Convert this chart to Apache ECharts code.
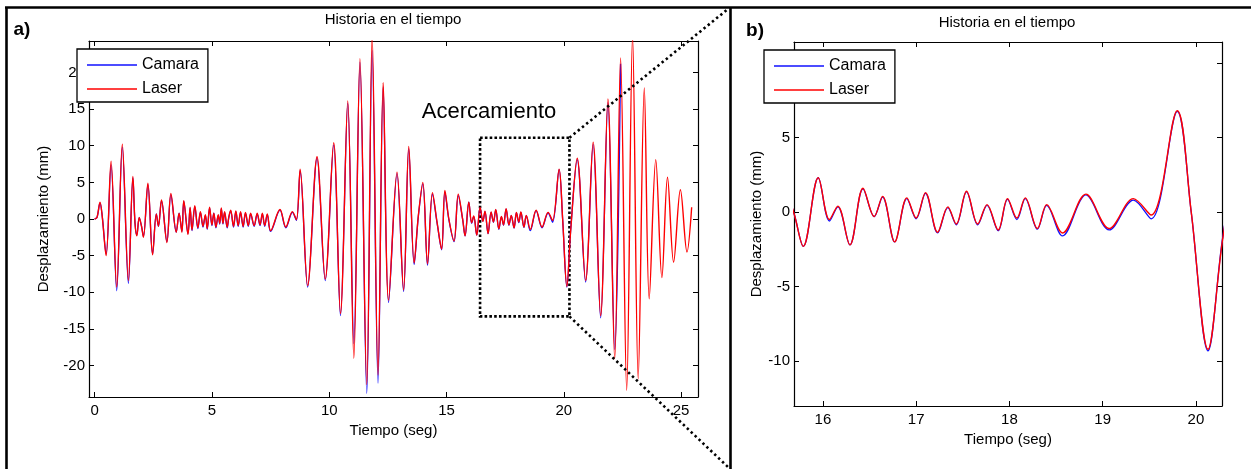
<!DOCTYPE html>
<html lang="es">
<head>
<meta charset="utf-8">
<script src="https://cdn.jsdelivr.net/npm/echarts@6/dist/echarts.min.js"></script>
<title>Historia en el tiempo</title>
<style>html,body{margin:0;padding:0;background:#fff;}</style>
</head>
<body>
<div id="main" style="width:1251px;height:469px;"></div>
<script type="text/javascript">
// tiempo (seg) de los picos y valles
var tiempo = [
    0, 0.10, 0.23, 0.32, 0.49, 0.70, 0.94, 1.18, 1.44, 1.63, 1.72, 1.80, 1.90, 2.00, 2.08, 2.27, 2.47, 2.63, 2.72, 2.85, 3.08, 3.25, 3.48, 3.60, 3.72, 3.80, 3.98,
    4.07, 4.15, 4.27, 4.40, 4.51, 4.62, 4.72, 4.80, 4.90, 5.00, 5.08, 5.17, 5.27, 5.33, 5.40, 5.47, 5.54, 5.65, 5.72, 5.80, 5.92, 6.02, 6.12, 6.22, 6.33, 6.43, 6.55, 6.65, 6.80, 6.93, 7.05, 7.15, 7.25, 7.36, 7.50,
    7.90, 8.15, 8.43, 8.60, 8.76, 9.08, 9.48, 9.83, 10.19, 10.48, 10.79, 11.05, 11.31, 11.60, 11.83, 12.08, 12.30, 12.53, 12.89, 13.17, 13.39, 13.62, 13.80, 13.99, 14.19, 14.40, 14.60, 14.79, 14.93, 15.10, 15.32, 15.50,
    15.69, 15.79, 15.95, 16.07, 16.16, 16.29, 16.43, 16.55, 16.64, 16.77, 16.90, 17.00, 17.10, 17.23, 17.34, 17.43, 17.54, 17.66, 17.76, 17.88, 17.98, 18.08, 18.17, 18.30, 18.40, 18.57, 18.82, 19.07, 19.33, 19.52, 19.80, 19.95, 20.13, 20.29,
    20.57, 20.93, 21.25, 21.57, 21.88, 22.17, 22.42, 22.68, 22.93, 23.17, 23.43, 23.64, 23.92, 24.18, 24.42, 24.68, 24.97, 25.25, 25.45
];
// desplazamiento (mm) - camara (termina cerca de 22.4 s)
var camara = [
    0, 0.2, 2.2, 0.5, -4.8, 7.4, -9.8, 9.8, -8.8, 5.6, -0.5, -2.2, 0.2, -1.0, -2.4, 4.7, -4.8, 0.7, -1.0, 2.5, -3.1, 3.3, -1.8, 0.8, -1.7, 2.4, -2.0,
    1.5, -1.6, 1.7, -1.3, 0.9, -1.1, 0.5, -1.4, 1.5, -0.9, 0.8, -1.2, 0.5, -0.7, 1.4, -0.7, 0.9, -1.2, 0.2, 1.1, -1.1, 1.0, -1.0, 0.9, -1.1, 0.8, -1.0, 0.7, -1.0, 0.7, -0.9, 0.7, -1.0, 0.6, -1.7,
    1.2, -1.2, 0.9, -0.2, 6.6, -9.3, 8.3, -8.4, 10.1, -13.2, 15.8, -17.0, 21.4, -23.8, 23.0, -22.4, 18.0, -11.4, 6.2, -9.9, 9.6, -6.2, 0.4, 4.8, -6.3, 3.4, -0.6, -4.2, 3.7, -0.1, -3.1, 3.2,
    -0.1, -2.3, 2.3, -0.6, 0.35, -2.2, 1.55, -0.3, 1.0, -2.0, 0.9, -0.45, 1.25, -1.4, 0.3, -0.85, 1.35, -0.85, 0.45, -1.25, 0.85, -0.5, 0.9, -1.15, 0.45, -1.6, 1.15, -1.2, 0.8, -0.45, 6.75, 0.0, -9.3, -1.6,
    8.1, -8.6, 10.2, -13.5, 15.9, -17.8, 21.2, null, null, null, null, null, null, null, null, null, null, null, null
];
// desplazamiento (mm) - laser
var laser = [
    0, 0.2, 2.3, 0.5, -5.0, 7.9, -9.3, 10.2, -8.4, 5.8, -0.5, -2.3, 0.2, -1.0, -2.5, 4.9, -4.9, 0.7, -1.0, 2.6, -3.2, 3.5, -1.8, 0.8, -1.8, 2.5, -2.1,
    1.6, -1.5, 1.8, -1.2, 1.0, -1.0, 0.6, -1.3, 1.6, -0.8, 0.8, -1.1, 0.6, -0.6, 1.5, -0.6, 1.0, -1.1, 0.3, 1.2, -1.0, 1.1, -0.9, 1.0, -1.0, 0.9, -0.9, 0.8, -0.9, 0.8, -0.8, 0.8, -0.9, 0.7, -1.6,
    1.3, -1.1, 1.0, -0.1, 6.8, -9.1, 8.5, -8.2, 10.4, -12.9, 16.1, -19.0, 21.9, -22.6, 25.0, -21.3, 18.6, -11.1, 6.4, -9.7, 9.9, -6.0, 0.5, 5.0, -6.1, 3.6, -0.5, -4.1, 3.9, 0.0, -3.0, 3.4,
    -0.1, -2.3, 2.3, -0.5, 0.4, -2.2, 1.6, -0.3, 1.05, -2.0, 0.95, -0.4, 1.3, -1.35, 0.35, -0.8, 1.4, -0.8, 0.5, -1.2, 0.9, -0.4, 0.95, -1.1, 0.5, -1.4, 1.2, -1.1, 0.9, -0.2, 6.8, 0.0, -9.2, -1.7,
    8.3, -8.4, 10.5, -13.2, 16.4, -19.1, 22.0, -23.4, 25.0, -21.8, 17.9, -10.9, 8.1, -8.0, 5.7, -5.9, 4.0, -4.5, 1.6
];

var ticksXa = [0, 5, 10, 15, 20, 25];
var ticksYa = [-20, -15, -10, -5, 0, 5, 10, 15, 20];
var ticksXb = [16, 17, 18, 19, 20];
var ticksYb = [-10, -5, 0, 5, 10];
// recuadro "Acercamiento": t inicial, t final, desp. min, desp. max
var recuadro = [16.43, 20.24, -13.3, 11.1];

var fuente = '"Liberation Sans", Arial, sans-serif';
var azul = '#1010ff';
var rojo = '#ff0000';

function pares(vals) {
    var out = [];
    for (var i = 0; i < tiempo.length; i++) {
        if (vals[i] !== null) out.push([tiempo[i], vals[i]]);
    }
    return out;
}

function eje(grid, min, max, ticks, pos, conTexto, nombre, gap) {
    return {
        type: 'value', gridIndex: grid, min: min, max: max, position: pos,
        axisLine: {onZero: false, lineStyle: {color: '#000', width: 1.2}},
        axisTick: {inside: true, length: 5, customValues: ticks, lineStyle: {color: '#000', width: 1}},
        axisLabel: {show: conTexto, customValues: ticks, color: '#000', fontSize: 15, fontFamily: fuente, margin: 4},
        splitLine: {show: false},
        name: conTexto ? nombre : '', nameLocation: 'middle', nameGap: gap,
        nameTextStyle: {color: '#000', fontSize: 15, fontFamily: fuente}
    };
}

var myChart = echarts.init(document.getElementById('main'));

var xa = eje(0, -0.24, 25.72, ticksXa, 'bottom', true, 'Tiempo (seg)', 26);
xa.axisLabel.margin = 6;
var xb = eje(1, 15.69, 20.28, ticksXb, 'bottom', true, 'Tiempo (seg)', 26);
xb.axisLabel.margin = 6;

function serie(nombre, vals, color, idx, extra) {
    var s = {
        name: nombre, type: 'line', xAxisIndex: idx, yAxisIndex: idx,
        data: pares(vals), symbol: 'none', showSymbol: false, smooth: 0.35,
        lineStyle: {color: color, width: nombre === 'Laser' ? 1.4 : 1.3}, itemStyle: {color: color},
        animation: false, silent: true
    };
    if (extra) s.markArea = extra;
    return s;
}

function leyenda(left, top) {
    return {
        left: left, top: top, orient: 'vertical', data: ['Camara', 'Laser'],
        icon: 'rect', itemWidth: 50, itemHeight: 1.4, itemGap: 6, padding: [7, 9, 4, 10],
        borderColor: '#000', borderWidth: 1.3, borderRadius: 0, backgroundColor: '#fff',
        textStyle: {color: '#000', fontSize: 16, fontFamily: fuente, lineHeight: 18}, selectedMode: false
    };
}

var option = {
    backgroundColor: '#fff',
    grid: [
        {left: 89, top: 41, width: 609, height: 356},
        {left: 794, top: 42, width: 428, height: 364}
    ],
    legend: [leyenda(77, 49), leyenda(764, 50)],
    xAxis: [
        xa,
        eje(0, -0.24, 25.72, ticksXa, 'top', false),
        xb,
        eje(1, 15.69, 20.28, ticksXb, 'top', false)
    ],
    yAxis: [
        eje(0, -24.3, 24.3, ticksYa, 'left', true, 'Desplazamiento (mm)', 38),
        eje(0, -24.3, 24.3, ticksYa, 'right', false),
        eje(1, -13, 11.4, ticksYb, 'left', true, 'Desplazamiento (mm)', 19),
        eje(1, -13, 11.4, ticksYb, 'right', false)
    ],
    series: [
        serie('Camara', camara, azul, 0),
        serie('Laser', laser, rojo, 0, {
            silent: true,
            itemStyle: {color: 'rgba(0,0,0,0)', borderColor: '#000', borderWidth: 2.6, borderType: [2.6, 2.2]},
            data: [[{coord: [recuadro[0], recuadro[3]]}, {coord: [recuadro[1], recuadro[2]]}]]
        }),
        serie('Camara', camara, azul, 2),
        serie('Laser', laser, rojo, 2)
    ]
};

myChart.setOption(option);

// lineas punteadas desde el recuadro hacia el panel b
var esq1 = myChart.convertToPixel({xAxisIndex: 0, yAxisIndex: 0}, [recuadro[1], recuadro[3]]);
var esq2 = myChart.convertToPixel({xAxisIndex: 0, yAxisIndex: 0}, [recuadro[1], recuadro[2]]);

function texto(t, x, y, size, bold) {
    return {
        type: 'text', silent: true, z: 10,
        style: {text: t, x: x, y: y, fill: '#000', fontSize: size, fontFamily: fuente,
            fontWeight: bold ? 'bold' : 'normal', align: 'center', verticalAlign: 'middle'}
    };
}
function linea(x1, y1, x2, y2, w, dash) {
    return {
        type: 'line', silent: true, z: 10,
        shape: {x1: x1, y1: y1, x2: x2, y2: y2},
        style: {stroke: '#000', lineWidth: w, lineDash: dash || null}
    };
}

myChart.setOption({
    graphic: [
        linea(5, 7.5, 1251, 7.5, 2.6),
        linea(6.5, 7, 6.5, 469, 2.6),
        linea(730.5, 7, 730.5, 469, 2.6),
        linea(esq1[0], esq1[1], 728, 9, 2.6, [2.4, 3]),
        linea(esq2[0], esq2[1], 728, 467, 2.6, [2.4, 3]),
        texto('a)', 22, 30, 19, true),
        texto('b)', 755, 31, 19, true),
        texto('Historia en el tiempo', 393, 20, 15),
        texto('Historia en el tiempo', 1007, 23, 15),
        texto('Acercamiento', 489, 112, 22)
    ]
});
</script>
</body>
</html>
